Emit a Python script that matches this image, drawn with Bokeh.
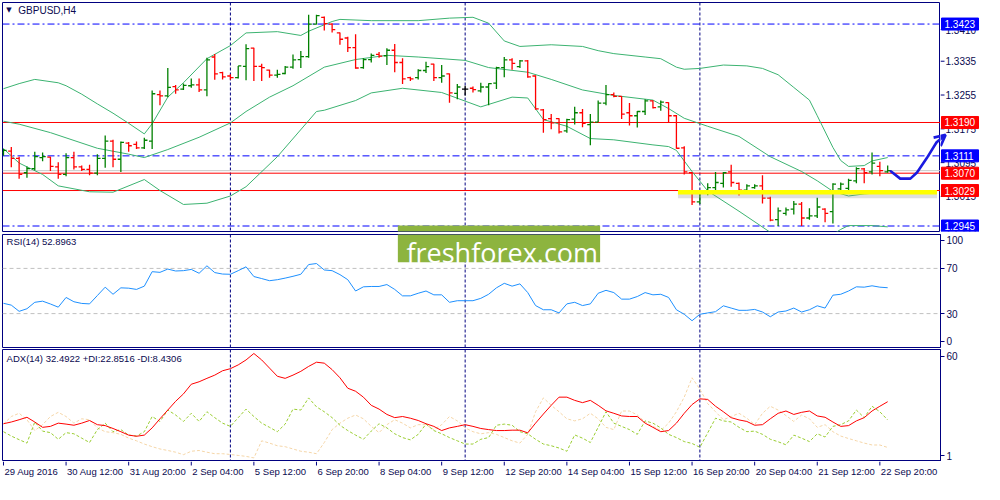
from bokeh.plotting import figure
from bokeh.layouts import column, row
from bokeh.models import (Range1d, FixedTicker, Span, Label, Arrow, OpenHead,
                          ColumnDataSource, BoxAnnotation)
from bokeh.core.properties import value
from bokeh.embed import file_html
from bokeh.resources import INLINE

# ---------------- data ----------------
time_labels = ["29 Aug 2016", "30 Aug 12:00", "31 Aug 20:00", "2 Sep 04:00", "5 Sep 12:00",
               "6 Sep 20:00", "8 Sep 04:00", "9 Sep 12:00", "12 Sep 20:00", "14 Sep 04:00",
               "15 Sep 12:00", "16 Sep 20:00", "20 Sep 04:00", "21 Sep 12:00", "22 Sep 20:00"]
time_label_bars = [0, 8, 16, 24, 32, 40, 48, 56, 64, 72, 80, 88, 96, 104, 112]

bar_open = [
    1.3119, 1.3122, 1.3105, 1.3071, 1.3081, 1.3107, 1.3108, 1.3085, 1.3067, 1.3107,
    1.3085, 1.3079, 1.3070, 1.3105, 1.3146, 1.3103, 1.3141, 1.3138, 1.3130, 1.3146,
    1.3256, 1.3253, 1.3275, 1.3269, 1.3277, 1.3279, 1.3267, 1.3345, 1.3308, 1.3300,
    1.3296, 1.3323, 1.3366, 1.3323, 1.3314, 1.3302, 1.3306, 1.3321, 1.3339, 1.3346,
    1.3423, 1.3439, 1.3423, 1.3402, 1.3390, 1.3367, 1.3320, 1.3339, 1.3351, 1.3348,
    1.3361, 1.3332, 1.3296, 1.3296, 1.3313, 1.3328, 1.3296, 1.3305, 1.3259, 1.3269,
    1.3271, 1.3265, 1.3274, 1.3283, 1.3320, 1.3338, 1.3322, 1.3336, 1.3300, 1.3220,
    1.3199, 1.3199, 1.3170, 1.3198, 1.3213, 1.3185, 1.3191, 1.3236, 1.3256, 1.3252,
    1.3213, 1.3206, 1.3216, 1.3241, 1.3227, 1.3237, 1.3206, 1.3130, 1.3071, 1.3002,
    1.3025, 1.3036, 1.3046, 1.3073, 1.3046, 1.3030, 1.3036, 1.3040, 1.3011, 1.2960,
    1.2975, 1.2985, 1.2997, 1.2964, 1.2969, 1.2985, 1.2979, 1.3033, 1.3034, 1.3052,
    1.3080, 1.3073, 1.3086, 1.3073]
bar_high = [
    1.3128, 1.3132, 1.3109, 1.3086, 1.3121, 1.3119, 1.3109, 1.3096, 1.3117, 1.3121,
    1.3088, 1.3090, 1.3115, 1.3159, 1.3149, 1.3145, 1.3144, 1.3145, 1.3154, 1.3266,
    1.3266, 1.3319, 1.3279, 1.3282, 1.3294, 1.3294, 1.3343, 1.3352, 1.3310, 1.3304,
    1.3324, 1.3375, 1.3367, 1.3329, 1.3315, 1.3315, 1.3324, 1.3351, 1.3359, 1.3445,
    1.3445, 1.3441, 1.3425, 1.3403, 1.3393, 1.3399, 1.3342, 1.3353, 1.3357, 1.3366,
    1.3376, 1.3342, 1.3298, 1.3316, 1.3334, 1.3329, 1.3326, 1.3306, 1.3281, 1.3277,
    1.3275, 1.3284, 1.3283, 1.3322, 1.3345, 1.3342, 1.3338, 1.3338, 1.3302, 1.3222,
    1.3210, 1.3200, 1.3199, 1.3227, 1.3222, 1.3210, 1.3242, 1.3279, 1.3261, 1.3252,
    1.3236, 1.3217, 1.3245, 1.3242, 1.3242, 1.3238, 1.3208, 1.3134, 1.3073, 1.3027,
    1.3046, 1.3073, 1.3073, 1.3090, 1.3048, 1.3044, 1.3044, 1.3065, 1.3014, 1.2989,
    1.2989, 1.3004, 1.3002, 1.2987, 1.3012, 1.2987, 1.3046, 1.3048, 1.3057, 1.3084,
    1.3082, 1.3119, 1.3097, 1.3088]
bar_low = [
    1.3111, 1.3084, 1.3057, 1.3059, 1.3077, 1.3098, 1.3075, 1.3057, 1.3063, 1.3079,
    1.3075, 1.3065, 1.3065, 1.3083, 1.3084, 1.3073, 1.3121, 1.3127, 1.3127, 1.3127,
    1.3231, 1.3250, 1.3258, 1.3267, 1.3272, 1.3262, 1.3252, 1.3291, 1.3292, 1.3291,
    1.3294, 1.3290, 1.3288, 1.3288, 1.3296, 1.3296, 1.3304, 1.3317, 1.3319, 1.3343,
    1.3422, 1.3408, 1.3403, 1.3374, 1.3357, 1.3317, 1.3317, 1.3332, 1.3343, 1.3326,
    1.3309, 1.3281, 1.3288, 1.3292, 1.3307, 1.3288, 1.3284, 1.3237, 1.3245, 1.3254,
    1.3261, 1.3261, 1.3231, 1.3269, 1.3297, 1.3315, 1.3319, 1.3296, 1.3220, 1.3166,
    1.3174, 1.3164, 1.3166, 1.3185, 1.3179, 1.3136, 1.3191, 1.3231, 1.3250, 1.3198,
    1.3183, 1.3178, 1.3208, 1.3223, 1.3218, 1.3190, 1.3128, 1.3067, 1.2995, 1.2997,
    1.3018, 1.3027, 1.3036, 1.3038, 1.3017, 1.3027, 1.3033, 1.2998, 1.2956, 1.2945,
    1.2970, 1.2972, 1.2945, 1.2960, 1.2964, 1.2954, 1.2951, 1.3029, 1.3029, 1.3046,
    1.3046, 1.3067, 1.3063, 1.3071]
bar_close = [
    1.3124, 1.3105, 1.3067, 1.3081, 1.3109, 1.3109, 1.3086, 1.3067, 1.3107, 1.3085,
    1.3079, 1.3070, 1.3105, 1.3146, 1.3103, 1.3143, 1.3135, 1.3130, 1.3148, 1.3258,
    1.3253, 1.3273, 1.3267, 1.3278, 1.3279, 1.3267, 1.3338, 1.3305, 1.3298, 1.3296,
    1.3324, 1.3365, 1.3323, 1.3320, 1.3302, 1.3304, 1.3321, 1.3338, 1.3346, 1.3423,
    1.3443, 1.3424, 1.3410, 1.3387, 1.3367, 1.3319, 1.3339, 1.3349, 1.3347, 1.3361,
    1.3332, 1.3293, 1.3293, 1.3313, 1.3322, 1.3296, 1.3300, 1.3260, 1.3274, 1.3269,
    1.3268, 1.3274, 1.3282, 1.3320, 1.3338, 1.3330, 1.3336, 1.3298, 1.3222, 1.3197,
    1.3189, 1.3168, 1.3197, 1.3213, 1.3188, 1.3191, 1.3236, 1.3256, 1.3252, 1.3210,
    1.3206, 1.3216, 1.3241, 1.3225, 1.3238, 1.3206, 1.3129, 1.3073, 1.3002, 1.3025,
    1.3036, 1.3048, 1.3071, 1.3048, 1.3030, 1.3040, 1.3040, 1.3011, 1.2959, 1.2981,
    1.2983, 1.2997, 1.2964, 1.2969, 1.2990, 1.2975, 1.3044, 1.3044, 1.3053, 1.3081,
    1.3071, 1.3094, 1.3076, 1.3076]

bb_upper_bars = [0, 2, 4, 7, 8, 10, 12, 14, 16, 18, 19, 21, 23, 26, 29, 31, 35, 38, 39, 42,
                 43, 47, 53, 57, 60, 62, 64, 66, 70, 74, 76, 78, 82, 84, 86, 87, 89, 92, 95, 97,
                 99, 101, 103, 104, 106, 107, 108, 110, 111, 113]
bb_upper = [1.3270, 1.3282, 1.3292, 1.3284, 1.3277, 1.3257, 1.3234, 1.3212, 1.3188, 1.3163,
            1.3187, 1.3250, 1.3284, 1.3341, 1.3372, 1.3402, 1.3405, 1.3396, 1.3406, 1.3429,
            1.3434, 1.3431, 1.3431, 1.3437, 1.3439, 1.3425, 1.3383, 1.3370, 1.3374, 1.3370,
            1.3360, 1.3353, 1.3345, 1.3341, 1.3321, 1.3316, 1.3318, 1.3326, 1.3324, 1.3318,
            1.3303, 1.3273, 1.3243, 1.3206, 1.3131, 1.3100, 1.3086, 1.3088, 1.3099, 1.3107]
bb_middle_bars = [0, 2, 6, 12, 16, 18, 21, 25, 29, 31, 34, 37, 41, 45, 49, 53, 59, 62, 67, 70,
                  74, 78, 83, 85, 87, 90, 94, 98, 102, 104, 106, 108, 110, 113]
bb_middle = [1.3193, 1.3186, 1.3166, 1.3129, 1.3115, 1.3107, 1.3126, 1.3155, 1.3189, 1.3216,
             1.3250, 1.3277, 1.3321, 1.3339, 1.3349, 1.3345, 1.3337, 1.3320, 1.3309, 1.3292,
             1.3267, 1.3254, 1.3243, 1.3223, 1.3200, 1.3181, 1.3157, 1.3109, 1.3074, 1.3052,
             1.3027, 1.3016, 1.3021, 1.3025]
bb_lower_bars = [0, 2, 5, 7, 11, 14, 18, 20, 23, 26, 29, 31, 35, 40, 41, 45, 47, 51, 56, 61,
                 65, 67, 69, 72, 75, 78, 83, 85, 86, 88, 90, 94, 98, 101, 104, 106, 107, 108,
                 111, 113]
bb_lower = [1.3128, 1.3094, 1.3067, 1.3040, 1.3026, 1.3025, 1.3055, 1.3029, 1.2996, 1.2999,
            1.3016, 1.3038, 1.3109, 1.3216, 1.3219, 1.3242, 1.3260, 1.3271, 1.3261, 1.3227,
            1.3250, 1.3248, 1.3197, 1.3181, 1.3152, 1.3149, 1.3137, 1.3133, 1.3124, 1.3074,
            1.3028, 1.2980, 1.2930, 1.2905, 1.2903, 1.2925, 1.2937, 1.2946, 1.2946, 1.2943]

rsi = [
    39.1, 37.5, 32.0, 34.3, 40.0, 41.0, 38.5, 35.7, 44.3, 40.5,
    39.0, 38.6, 46.0, 53.4, 47.1, 52.8, 52.5, 51.4, 54.3, 67.1,
    66.5, 69.4, 67.7, 68.0, 69.1, 65.7, 72.3, 66.3, 65.0, 64.8,
    68.0, 71.4, 62.8, 61.0, 59.1, 60.0, 61.4, 63.0, 64.8, 73.4,
    74.3, 68.6, 68.0, 64.5, 60.0, 50.0, 53.7, 54.0, 54.0, 55.7,
    51.4, 45.7, 45.7, 48.0, 50.0, 46.6, 46.6, 40.0, 41.4, 41.4,
    41.4, 43.5, 47.1, 52.8, 56.8, 54.3, 56.3, 48.6, 37.1, 33.4,
    33.4, 30.6, 38.6, 40.0, 37.1, 38.6, 48.0, 50.6, 48.6, 42.8,
    42.8, 45.1, 48.6, 46.6, 47.1, 44.3, 33.4, 29.4, 23.7, 29.4,
    30.6, 31.7, 36.9, 34.9, 32.9, 32.9, 33.7, 31.4, 27.2, 31.4,
    32.3, 34.9, 31.4, 33.4, 36.9, 34.9, 46.3, 47.1, 50.0, 53.7,
    53.4, 54.6, 53.4, 52.9]

adx = [
    20.9, 21.8, 23.0, 24.3, 21.8, 19.0, 19.5, 21.2, 20.7, 20.1,
    21.2, 22.6, 20.4, 19.9, 18.4, 16.7, 14.9, 14.3, 14.9, 18.7,
    23.5, 28.1, 32.7, 36.6, 41.7, 43.0, 44.8, 46.5, 48.8, 49.9,
    51.9, 54.5, 57.9, 54.5, 50.2, 45.9, 44.8, 46.5, 48.5, 51.1,
    53.3, 52.8, 49.4, 45.1, 39.6, 38.0, 34.9, 30.6, 28.6, 25.8,
    24.1, 24.7, 23.8, 22.6, 20.9, 19.5, 17.3, 18.7, 19.5, 20.4,
    19.5, 18.4, 17.8, 17.3, 17.3, 17.5, 17.5, 16.1, 21.2, 26.0,
    30.6, 34.9, 34.9, 33.2, 32.0, 33.2, 30.6, 27.7, 26.4, 25.0,
    24.7, 24.7, 21.2, 19.0, 16.7, 17.3, 21.2, 26.4, 31.0, 34.0,
    33.7, 30.1, 27.2, 24.1, 22.9, 22.1, 20.1, 20.4, 23.5, 26.4,
    27.6, 25.8, 26.9, 27.6, 25.0, 24.3, 21.8, 19.5, 19.9, 22.4,
    24.1, 27.6, 30.1, 32.5]
plus_di = [
    16.7, 14.4, 12.5, 10.7, 21.8, 17.0, 16.2, 12.7, 16.2, 15.6,
    13.3, 11.0, 17.8, 21.2, 16.7, 17.8, 14.9, 14.4, 16.7, 24.7,
    22.1, 28.1, 25.5, 22.1, 26.4, 22.1, 27.2, 24.1, 21.2, 19.5,
    24.1, 28.6, 24.7, 21.2, 19.0, 16.7, 20.7, 28.6, 28.1, 34.5,
    29.8, 27.2, 24.1, 20.1, 17.3, 14.9, 12.7, 17.0, 20.9, 18.7,
    15.6, 13.6, 12.4, 15.3, 20.7, 17.3, 15.6, 13.6, 11.9, 10.2,
    10.2, 12.7, 13.6, 20.1, 20.7, 20.1, 16.7, 15.6, 12.7, 10.2,
    9.3, 8.1, 6.4, 15.0, 13.3, 11.0, 19.0, 27.2, 21.2, 19.5,
    17.8, 15.3, 22.4, 21.2, 18.7, 15.3, 13.6, 11.5, 10.5, 8.5,
    16.1, 23.8, 22.4, 21.8, 19.0, 16.7, 17.0, 15.3, 12.7, 11.4,
    9.8, 14.9, 13.3, 11.5, 15.6, 13.9, 19.5, 20.4, 22.4, 28.1,
    24.1, 30.1, 27.2, 22.9]
minus_di = [
    20.7, 24.7, 26.4, 23.0, 17.3, 20.4, 24.7, 26.9, 24.7, 21.2,
    23.5, 23.0, 18.7, 16.7, 16.2, 15.3, 13.3, 11.9, 10.2, 8.8,
    7.6, 6.8, 5.9, 4.6, 6.4, 6.8, 5.9, 5.1, 5.1, 4.7,
    4.2, 3.7, 2.9, 11.9, 10.7, 9.3, 8.8, 7.6, 6.4, 5.9,
    5.1, 11.0, 17.8, 21.2, 23.8, 25.5, 23.5, 19.5, 16.2, 20.4,
    23.0, 21.2, 18.7, 20.4, 20.4, 17.8, 20.4, 24.7, 22.4, 18.7,
    16.7, 15.6, 16.2, 15.3, 13.6, 11.9, 10.7, 15.3, 27.2, 34.5,
    30.6, 27.2, 23.5, 22.4, 23.5, 26.4, 23.5, 19.0, 17.8, 27.6,
    27.6, 25.5, 21.8, 19.5, 17.3, 21.2, 27.2, 34.9, 45.1, 39.1,
    31.5, 27.2, 23.0, 24.7, 26.4, 23.8, 20.4, 26.4, 30.1, 28.1,
    25.2, 22.1, 25.5, 23.5, 19.0, 20.4, 16.7, 14.4, 13.1, 11.9,
    10.7, 9.7, 9.7, 8.4]

price_ticks = [1.3410, 1.3335, 1.3255, 1.3175, 1.3095, 1.3015, 1.2935]
level_values = [1.3423, 1.3190, 1.3111, 1.3070, 1.3029, 1.2945]
level_kinds = ["blue", "red", "blue", "red", "red", "blue"]
marker_bars = [29, 59, 89]              # vertical dashed lines
rsi_levels = [70, 30]
rsi_tick_pos = [94.9, 70, 30, 5.7]
rsi_tick_text = ["100", "70", "30", "0"]
adx_tick_pos = [56.4, 3.9]
adx_tick_text = ["60", "1"]
zone_bars = [86.2, 119.3]               # yellow support band
zone_price = 1.3025
path_bars = [113.4, 114.6, 115.9, 116.75, 118.0, 119.25]   # hand-drawn forecast arrow
path_price = [1.30745, 1.30571, 1.30571, 1.30715, 1.31058, 1.31431]
path_tip = (120.4, 1.31607)

# ---------------- style ----------------
NAVY = "#000080"
TXT = "#0a0a50"
UP, DOWN, DOJI = "#008000", "#FF0000", "#000000"
BAND = "#3CB371"
ARROW = "#1a1ae0"
FONT = "Liberation Sans"
FW = 938                   # frame width of every panel
SIDE = 42                  # width of the right-hand scale
X0, X1 = -0.125, 119.75
PXU = (X1 - X0) / FW       # bar units per pixel
TICK = 0.4
P_LO, P_HI, P_H = 1.2932, 1.3474, 229
PYU = (P_HI - P_LO) / P_H  # price per pixel


def base(fh, yr, top, bottom, right_axis=True):
    p = figure(frame_width=FW, frame_height=fh, x_range=Range1d(X0, X1), y_range=yr,
               output_backend="svg", toolbar_location=None,
               x_axis_location=None, y_axis_location="right" if right_axis else None,
               min_border_left=2, min_border_right=SIDE if right_axis else 0,
               min_border_top=top, min_border_bottom=bottom)
    p.grid.visible = False
    p.outline_line_color = NAVY
    p.outline_line_width = 1
    p.background_fill_color = "white"
    p.border_fill_color = "white"
    for ax in p.yaxis:
        ax.axis_line_color = NAVY
        ax.major_tick_line_color = NAVY
        ax.major_tick_out = 4
        ax.major_tick_in = 0
        ax.minor_tick_out = 0
        ax.minor_tick_in = 0
        ax.major_label_text_font = FONT
        ax.major_label_text_font_size = "10px"
        ax.major_label_text_color = TXT
        ax.major_label_standoff = 2
    for b in marker_bars:
        p.add_layout(Span(location=b, dimension="height", line_color=NAVY,
                          line_dash="3 2", line_width=1, level="underlay"))
    return p


def forecast_head():
    return Arrow(end=OpenHead(size=11, line_color=ARROW, line_width=2.6),
                 x_start=path_bars[-1], y_start=path_price[-1],
                 x_end=path_tip[0], y_end=path_tip[1],
                 line_color=ARROW, line_width=2.6)


# ---------------- price panel ----------------
price_range = Range1d(P_LO, P_HI)
p1 = base(P_H, price_range, 2, 1, right_axis=False)

idx = list(range(len(bar_close)))
cols = [UP if c > o else (DOWN if c < o else DOJI) for o, c in zip(bar_open, bar_close)]
src = ColumnDataSource(dict(x=idx, xl=[i - TICK for i in idx], xr=[i + TICK for i in idx],
                            o=bar_open, h=bar_high, l=bar_low, c=bar_close, col=cols))

p1.add_layout(Span(location=bar_close[-1], dimension="width", line_color="#C8C8C8",
                   line_width=1, level="underlay"))
for v, k in zip(level_values, level_kinds):
    if k == "red":
        p1.add_layout(Span(location=v, dimension="width", line_color="#FF0000",
                           line_width=1, level="underlay"))
    else:
        p1.add_layout(Span(location=v, dimension="width", line_color="#0000FF",
                           line_width=1, line_dash="7 3 2 3", level="underlay"))

p1.line(bb_upper_bars, bb_upper, line_color=BAND, line_width=1)
p1.line(bb_middle_bars, bb_middle, line_color=BAND, line_width=1)
p1.line(bb_lower_bars, bb_lower, line_color=BAND, line_width=1)

p1.segment(x0="x", y0="l", x1="x", y1="h", line_color="col", line_width=1.3, source=src)
p1.segment(x0="xl", y0="o", x1="x", y1="o", line_color="col", line_width=1.3, source=src)
p1.segment(x0="x", y0="c", x1="xr", y1="c", line_color="col", line_width=1.3, source=src)

p1.line(zone_bars, [zone_price - 2 * PYU] * 2, line_color="#808080", line_width=8,
        line_alpha=0.25)
p1.line(zone_bars, [zone_price] * 2, line_color="#FFFF00", line_width=4.5)

p1.line(path_bars, path_price, line_color=ARROW, line_width=2.6, line_join="round",
        line_cap="round")
p1.add_layout(forecast_head())

p1.add_layout(Label(x=0.35, y=1.3456, text="\u25BC", text_baseline="middle",
                    text_font="DejaVu Sans", text_font_size="7px", text_color=TXT))
p1.add_layout(Label(x=1.9, y=1.3456, text="GBPUSD,H4", text_baseline="middle",
                    text_font=FONT, text_font_size="10px", text_color=TXT))

WM = "#8DB43F"
p1.add_layout(BoxAnnotation(left=50.4, right=76.25, top=1.2946, bottom=1.2900,
                            fill_color=WM, fill_alpha=1, line_alpha=0))

# right-hand price scale, drawn in a narrow panel that shares the price range
ps = figure(frame_width=SIDE, frame_height=P_H, x_range=Range1d(X1, X1 + SIDE * PXU),
            y_range=price_range, output_backend="svg", toolbar_location=None,
            x_axis_location=None, y_axis_location=None, min_border_left=0,
            min_border_right=0, min_border_top=2, min_border_bottom=1)
ps.grid.visible = False
ps.outline_line_color = None
ps.background_fill_color = "white"
ps.border_fill_color = "white"
n = len(price_ticks)
ps.segment(x0=[X1] * n, x1=[X1 + 4 * PXU] * n, y0=price_ticks, y1=price_ticks,
           line_color=NAVY, line_width=1)
ps.text(x=[X1 + 5 * PXU] * n, y=price_ticks, text=[f"{t:.4f}" for t in price_ticks],
        text_baseline="middle", text_align="left", text_font=value(FONT),
        text_font_size=value("10px"), text_color=TXT)
box_cols = ["#0000FF" if k == "blue" else "#FF0000" for k in level_kinds]
ps.quad(left=[X1 + 1 * PXU] * len(level_values), right=[X1 + 38 * PXU] * len(level_values),
        top=[v + 6 * PYU for v in level_values], bottom=[v - 6 * PYU for v in level_values],
        fill_color=box_cols, line_color=box_cols)
ps.text(x=[X1 + 4 * PXU] * len(level_values), y=level_values,
        text=[f"{v:.4f}" for v in level_values], text_baseline="middle", text_align="left",
        text_font=value(FONT), text_font_size=value("10px"), text_color="white")
ps.add_layout(forecast_head())

# ---------------- RSI panel ----------------
p2 = base(113, Range1d(0, 100), 2, 1)
p2.yaxis.ticker = FixedTicker(ticks=rsi_tick_pos)
p2.yaxis.major_label_overrides = dict(zip(rsi_tick_pos, rsi_tick_text))
for lv in rsi_levels:
    p2.add_layout(Span(location=lv, dimension="width", line_color="#C0C0C0",
                       line_dash="4 3", line_width=1, level="underlay"))
p2.line(idx, rsi, line_color="#1E90FF", line_width=1)
p2.add_layout(Label(x=0.4, y=93.4, text=f"RSI(14) {52.8963:.4f}", text_baseline="middle",
                    text_font=FONT, text_font_size="9.5px", text_color=TXT))
p2.add_layout(BoxAnnotation(left=50.4, right=76.25, top=110, bottom=75.4,
                            fill_color=WM, fill_alpha=1, line_alpha=0))
p2.add_layout(Label(x=51.5, y=83.7, text="freshforex.com", text_baseline="alphabetic",
                    text_font="Open Sans", text_font_size="27px", text_color="white"))

# ---------------- ADX panel ----------------
p3 = base(112, Range1d(1, 60), 1, 0)
p3.yaxis.ticker = FixedTicker(ticks=adx_tick_pos)
p3.yaxis.major_label_overrides = dict(zip(adx_tick_pos, adx_tick_text))
p3.line(idx, minus_di, line_color="#F5D6A8", line_width=1, line_dash="3 2")
p3.line(idx, plus_di, line_color="#9ACD32", line_width=1, line_dash="3 2")
p3.line(idx, adx, line_color="#FF0000", line_width=1)
p3.add_layout(Label(x=0.4, y=55.1, text="ADX(14) 32.4922 +DI:22.8516 -DI:8.4306",
                    text_baseline="middle", text_font=FONT, text_font_size="9.5px",
                    text_color=TXT))

# ---------------- time scale (ticks + left-aligned labels) ----------------
p4 = figure(frame_width=FW, frame_height=20, x_range=Range1d(X0, X1), y_range=Range1d(0, 20),
            output_backend="svg", toolbar_location=None, x_axis_location=None,
            y_axis_location=None, min_border_left=2, min_border_right=SIDE,
            min_border_top=0, min_border_bottom=0)
p4.grid.visible = False
p4.outline_line_color = None
p4.background_fill_color = "white"
p4.border_fill_color = "white"
m = len(time_label_bars)
p4.segment(x0=time_label_bars, x1=time_label_bars, y0=[20] * m, y1=[16] * m,
           line_color=NAVY, line_width=1)
p4.text(x=[b + 1 * PXU for b in time_label_bars], y=[10] * m, text=time_labels,
        text_baseline="middle", text_align="left", text_font=value(FONT),
        text_font_size=value("9.5px"), text_color=TXT)

layout = column(row(p1, ps, spacing=0), p2, p3, p4, spacing=0)
open("out.html", "w").write(file_html(layout, INLINE))
